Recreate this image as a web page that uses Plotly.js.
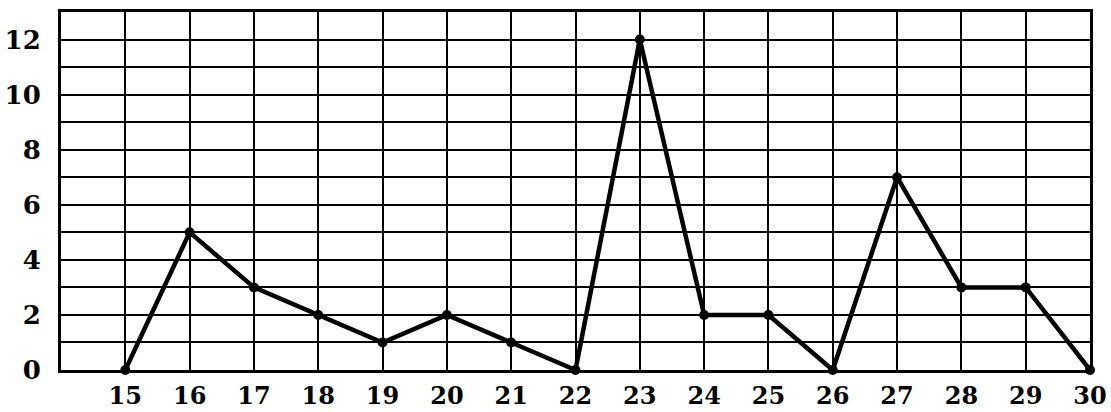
<!DOCTYPE html>
<html>
<head>
<meta charset="utf-8">
<script src="https://cdn.plot.ly/plotly-3.0.1.min.js"></script>
<style>html,body{margin:0;padding:0;background:#fff;}#chart{width:1111px;height:412px;}</style>
</head>
<body>
<div id="chart"></div>
<script>
const days = [15,16,17,18,19,20,21,22,23,24,25,26,27,28,29,30];
const values = [0,5,3,2,1,2,1,0,12,2,2,0,7,3,3,0];
const xTickLabels = ['15','16','17','18','19','20','21','22','23','24','25','26','27','28','29','30'];
const yTickVals = [0,2,4,6,8,10,12];
const yTickLabels = ['0','2','4','6','8','10','12'];

const xFont = {family: 'DejaVu Serif', size: 24, color: '#000', weight: 'bold'};
const yFont = {family: 'DejaVu Serif', size: 26, color: '#000', weight: 'bold'};

Plotly.newPlot('chart', [{
  x: days, y: values, type: 'scatter', mode: 'lines+markers',
  line: {color: '#000', width: 4.5},
  marker: {color: '#000', size: 10},
  cliponaxis: false
}], {
  width: 1111, height: 412,
  margin: {l: 61, r: 21, t: 12, b: 42},
  paper_bgcolor: '#fff', plot_bgcolor: '#fff',
  showlegend: false,
  font: yFont,
  xaxis: {
    range: [14, 30], tickmode: 'array', tickvals: days, ticktext: xTickLabels,
    showgrid: true, gridcolor: '#000', gridwidth: 2,
    showline: true, linecolor: '#000', linewidth: 3, mirror: true,
    zeroline: false, ticks: '', ticklabelstandoff: 2,
    tickfont: xFont, fixedrange: true
  },
  yaxis: {
    range: [0, 13], tickmode: 'array', tickvals: yTickVals, ticktext: yTickLabels,
    showgrid: true, gridcolor: '#000', gridwidth: 2,
    minor: {dtick: 1, tick0: 0, showgrid: true, gridcolor: '#000', gridwidth: 2, ticks: ''},
    showline: true, linecolor: '#000', linewidth: 3, mirror: true,
    zeroline: false, ticks: '', ticklabelstandoff: 12,
    tickfont: yFont, fixedrange: true
  }
}, {displayModeBar: false, staticPlot: true});
</script>
</body>
</html>
